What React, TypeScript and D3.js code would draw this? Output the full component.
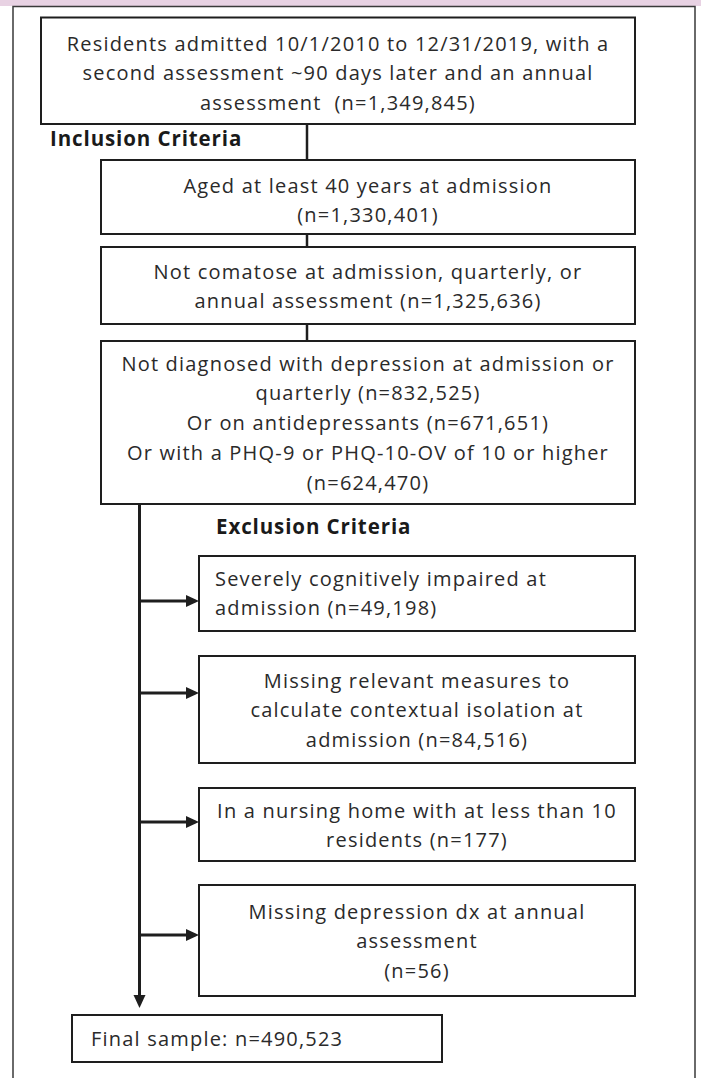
import React from "react";
import * as d3 from "d3";

// ---- Data (text content) ----
const mainSteps: string[][] = [
  [
    "Residents admitted 10/1/2010 to 12/31/2019, with a",
    "second assessment ~90 days later and an annual",
    "assessment  (n=1,349,845)",
  ],
  ["Aged at least 40 years at admission", "(n=1,330,401)"],
  ["Not comatose at admission, quarterly, or", "annual assessment (n=1,325,636)"],
  [
    "Not diagnosed with depression at admission or",
    "quarterly (n=832,525)",
    "Or on antidepressants (n=671,651)",
    "Or with a PHQ-9 or PHQ-10-OV of 10 or higher",
    "(n=624,470)",
  ],
];

const exclusionSteps: string[][] = [
  ["Severely cognitively impaired at", "admission (n=49,198)"],
  [
    "Missing relevant measures to",
    "calculate contextual isolation at",
    "admission (n=84,516)",
  ],
  ["In a nursing home with at less than 10", "residents (n=177)"],
  ["Missing depression dx at annual", "assessment", "(n=56)"],
];

const sectionLabels: string[] = ["Inclusion Criteria", "Exclusion Criteria"];
const finalLabel: string = "Final sample: n=490,523";

// ---- Layout ----
const W = 701;
const H = 1078;
const FONT = "'Open Sans', 'Noto Sans', sans-serif";
const FS = 20;
const LS = 1.2;
const LH = 29.8;
const INK = "#1e1e1e";
const TXT = "#2a2a2a";

const mainBoxes = [
  { x0: 41, x1: 635, y0: 17.5, y1: 124, firstLine: 43 },
  { x0: 101, x1: 635, y0: 160, y1: 234, firstLine: 185 },
  { x0: 101, x1: 635, y0: 247, y1: 324, firstLine: 271 },
  { x0: 101, x1: 635, y0: 341, y1: 504, firstLine: 363 },
];
const exBoxes = [
  { y0: 556, y1: 631, firstLine: 578, arrow: 601, align: "start" },
  { y0: 656, y1: 763, firstLine: 680, arrow: 693, align: "middle" },
  { y0: 788, y1: 861, firstLine: 810, arrow: 822, align: "middle" },
  { y0: 885, y1: 996, firstLine: 911, arrow: 935, align: "middle" },
];
const exX0 = 199;
const exX1 = 635;
const trunkX = 139.5;
const connX = 307;
const finalBox = { x0: 72, x1: 442, y0: 1015, y1: 1062 };

function Arrow({ x1, y1, x2, y2 }: { x1: number; y1: number; x2: number; y2: number }) {
  const ang = Math.atan2(y2 - y1, x2 - x1);
  const L = 13;
  const hw = 6;
  const bx = x2 - L * Math.cos(ang);
  const by = y2 - L * Math.sin(ang);
  const px = -Math.sin(ang) * hw;
  const py = Math.cos(ang) * hw;
  const head = d3.path();
  head.moveTo(x2, y2);
  head.lineTo(bx + px, by + py);
  head.lineTo(bx - px, by - py);
  head.closePath();
  return (
    <g>
      <line x1={x1} y1={y1} x2={bx} y2={by} stroke={INK} strokeWidth={3} />
      <path d={head.toString()} fill={INK} />
    </g>
  );
}

function TextLines({
  lines,
  x,
  y,
  anchor,
}: {
  lines: string[];
  x: number;
  y: number;
  anchor: string;
}) {
  const yScale = d3.scaleLinear().domain([0, 1]).range([y, y + LH]);
  return (
    <g>
      {lines.map((t, i) => (
        <text
          key={i}
          x={x}
          y={yScale(i)}
          textAnchor={anchor as any}
          dominantBaseline="central"
          fontFamily={FONT}
          fontSize={FS}
          letterSpacing={LS}
          fill={TXT}
          style={{ whiteSpace: "pre" }}
        >
          {t}
        </text>
      ))}
    </g>
  );
}

export default function App() {
  return (
    <svg
      width={W}
      height={H}
      viewBox={`0 0 ${W} ${H}`}
      style={{ position: "absolute", left: 0, top: 0, background: "#fff" }}
    >
      <rect x={0} y={0} width={W} height={H} fill="#fff" />
      {/* top band and frame */}
      <rect x={0} y={0} width={W} height={6} fill="#e8d2e3" />
      <path
        d={`M13,${H + 2} L13,6.5 L695,6.5 L695,${H + 2}`}
        fill="none"
        stroke="#3a3a3a"
        strokeWidth={1.5}
      />

      {/* connectors between main boxes */}
      {mainBoxes.slice(0, -1).map((b, i) => (
        <line
          key={"c" + i}
          x1={connX}
          y1={b.y1}
          x2={connX}
          y2={mainBoxes[i + 1].y0}
          stroke={INK}
          strokeWidth={2.5}
        />
      ))}

      {/* main boxes */}
      {mainSteps.map((lines, i) => {
        const b = mainBoxes[i];
        return (
          <g key={"m" + i}>
            <rect
              x={b.x0}
              y={b.y0}
              width={b.x1 - b.x0}
              height={b.y1 - b.y0}
              fill="#fff"
              stroke={INK}
              strokeWidth={2}
            />
            <TextLines lines={lines} x={(b.x0 + b.x1) / 2} y={b.firstLine} anchor="middle" />
          </g>
        );
      })}

      {/* section labels */}
      <text x={50} y={146} fontFamily={FONT} fontWeight={700} fontSize={20.5} letterSpacing={0.9} fill="#1a1a1a">
        {sectionLabels[0]}
      </text>
      <text x={216} y={534} fontFamily={FONT} fontWeight={700} fontSize={20.5} letterSpacing={0.9} fill="#1a1a1a">
        {sectionLabels[1]}
      </text>

      {/* trunk */}
      <Arrow x1={trunkX} y1={mainBoxes[3].y1} x2={trunkX} y2={finalBox.y0 - 7} />

      {/* exclusion boxes */}
      {exclusionSteps.map((lines, i) => {
        const b = exBoxes[i];
        const tx = b.align === "start" ? 215 : (exX0 + exX1) / 2;
        return (
          <g key={"e" + i}>
            <Arrow x1={trunkX} y1={b.arrow} x2={exX0} y2={b.arrow} />
            <rect
              x={exX0}
              y={b.y0}
              width={exX1 - exX0}
              height={b.y1 - b.y0}
              fill="#fff"
              stroke={INK}
              strokeWidth={2}
            />
            <TextLines lines={lines} x={tx} y={b.firstLine} anchor={b.align} />
          </g>
        );
      })}

      {/* final box */}
      <rect
        x={finalBox.x0}
        y={finalBox.y0}
        width={finalBox.x1 - finalBox.x0}
        height={finalBox.y1 - finalBox.y0}
        fill="#fff"
        stroke={INK}
        strokeWidth={2}
      />
      <TextLines lines={[finalLabel]} x={91} y={1038} anchor="start" />
    </svg>
  );
}
